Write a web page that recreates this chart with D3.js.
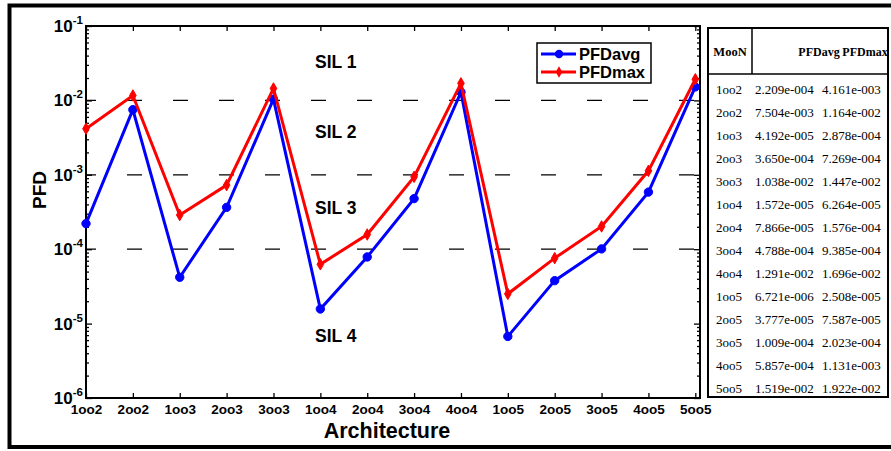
<!DOCTYPE html>
<html>
<head>
<meta charset="utf-8">
<script src="https://cdn.jsdelivr.net/npm/d3@7"></script>
<style>
  html, body { margin: 0; padding: 0; background: #fff; }
  svg { display: block; }
</style>
</head>
<body>
<svg id="chart" width="891" height="451"></svg>
<script>
// MooN voting architectures and their average / maximum probability of failure on demand
const architectures = ["1oo2","2oo2","1oo3","2oo3","3oo3","1oo4","2oo4","3oo4","4oo4","1oo5","2oo5","3oo5","4oo5","5oo5"];
const pfdAvg = [2.209e-4, 7.504e-3, 4.192e-5, 3.650e-4, 1.038e-2, 1.572e-5, 7.866e-5, 4.788e-4, 1.291e-2, 6.721e-6, 3.777e-5, 1.009e-4, 5.857e-4, 1.519e-2];
const pfdMax = [4.161e-3, 1.164e-2, 2.878e-4, 7.269e-4, 1.447e-2, 6.264e-5, 1.576e-4, 9.385e-4, 1.696e-2, 2.508e-5, 7.587e-5, 2.023e-4, 1.131e-3, 1.922e-2];
const pfdAvgText = ["2.209e-004","7.504e-003","4.192e-005","3.650e-004","1.038e-002","1.572e-005","7.866e-005","4.788e-004","1.291e-002","6.721e-006","3.777e-005","1.009e-004","5.857e-004","1.519e-002"];
const pfdMaxText = ["4.161e-003","1.164e-002","2.878e-004","7.269e-004","1.447e-002","6.264e-005","1.576e-004","9.385e-004","1.696e-002","2.508e-005","7.587e-005","2.023e-004","1.131e-003","1.922e-002"];
const yDecades = [1e-6, 1e-5, 1e-4, 1e-3, 1e-2, 1e-1];
const silBounds = [1e-2, 1e-3, 1e-4];
const silLabels = [
  { text: "SIL 1", y: 68 },
  { text: "SIL 2", y: 138 },
  { text: "SIL 3", y: 214 },
  { text: "SIL 4", y: 342 }
];

const svg = d3.select("#chart");
const sans = "'Liberation Sans', Arial, sans-serif";
const serif = "'Liberation Serif', 'Times New Roman', serif";

// outer frame
svg.append("rect").attr("x", 9.5).attr("y", 5.5).attr("width", 900).attr("height", 441.5)
  .attr("fill", "none").attr("stroke", "#000").attr("stroke-width", 4);

const L = 86, R = 700, T = 26, B = 398;
const x = d3.scaleLinear().domain([1, 14.1]).range([L, R]);
const y = d3.scaleLog().domain([1e-6, 1e-1]).range([B, T]);
const idx = architectures.map((_, i) => i + 1);

// minor log ticks (2..9 within each decade)
const minor = [];
yDecades.slice(0, -1).forEach(d => { for (let k = 2; k <= 9; k++) minor.push(d * k); });

const axisG = svg.append("g").attr("font-family", sans);

// bottom axis with category labels
const xb = axisG.append("g").attr("transform", `translate(0,${B})`)
  .call(d3.axisBottom(x).tickValues(idx).tickFormat(i => architectures[i - 1]).tickSizeInner(-5).tickSizeOuter(0).tickPadding(6));
xb.selectAll("text").attr("font-size", 13.5).attr("font-weight", "bold").attr("fill", "#000");
// top axis, ticks only
axisG.append("g").attr("transform", `translate(0,${T})`)
  .call(d3.axisTop(x).tickValues(idx).tickFormat("").tickSizeInner(-5).tickSizeOuter(0));

// left axis decades and minor ticks
axisG.append("g").attr("transform", `translate(${L},0)`)
  .call(d3.axisLeft(y).tickValues(yDecades).tickFormat("").tickSizeInner(-6).tickSizeOuter(0));
axisG.append("g").attr("transform", `translate(${L},0)`)
  .call(d3.axisLeft(y).tickValues(minor).tickFormat("").tickSizeInner(-3).tickSizeOuter(0));
// right axis
axisG.append("g").attr("transform", `translate(${R},0)`)
  .call(d3.axisRight(y).tickValues(yDecades).tickFormat("").tickSizeInner(-6).tickSizeOuter(0));
axisG.append("g").attr("transform", `translate(${R},0)`)
  .call(d3.axisRight(y).tickValues(minor).tickFormat("").tickSizeInner(-3).tickSizeOuter(0));

axisG.selectAll(".domain").remove();
axisG.selectAll(".tick line").attr("stroke", "#000").attr("stroke-width", 1.3);

// plot box
svg.append("rect").attr("x", L).attr("y", T).attr("width", R - L).attr("height", B - T)
  .attr("fill", "none").attr("stroke", "#000").attr("stroke-width", 2);

// decade labels 10^n with superscript exponent
const yLab = svg.append("g").attr("font-family", sans).attr("font-weight", "bold").attr("fill", "#000");
yDecades.forEach(d => {
  const t = yLab.append("text").attr("x", 83).attr("y", y(d) + 6).attr("text-anchor", "end").attr("font-size", 17);
  t.append("tspan").text("10");
  t.append("tspan").attr("font-size", 11.5).attr("dy", -8).text(String(Math.round(Math.log10(d))));
});

// SIL boundaries
svg.append("g").selectAll("line").data(silBounds).join("line")
  .attr("x1", L).attr("x2", R).attr("y1", d => y(d)).attr("y2", d => y(d))
  .attr("stroke", "#000").attr("stroke-width", 1.2)
  .attr("stroke-dasharray", "15,31").attr("stroke-dashoffset", 5);

svg.append("g").selectAll("text").data(silLabels).join("text")
  .attr("x", 315).attr("y", d => d.y).text(d => d.text)
  .attr("font-family", sans).attr("font-weight", "bold").attr("font-size", 17.5).attr("fill", "#000");

// series
const series = [
  { name: "PFDavg", values: pfdAvg, color: "#0000ff", marker: "circle" },
  { name: "PFDmax", values: pfdMax, color: "#ff0000", marker: "diamond" }
];
const line = d3.line().x((d, i) => x(i + 1)).y(d => y(d));
const sym = { circle: d3.symbol().type(d3.symbolCircle).size(55), diamond: d3.symbol().type(d3.symbolDiamond).size(38) };

series.forEach(s => {
  const g = svg.append("g");
  g.append("path").attr("d", line(s.values)).attr("fill", "none")
    .attr("stroke", s.color).attr("stroke-width", 3).attr("stroke-linejoin", "miter");
  g.selectAll("path.m").data(s.values).join("path").attr("class", "m")
    .attr("transform", (d, i) => `translate(${x(i + 1)},${y(d)})`)
    .attr("d", sym[s.marker]()).attr("fill", s.color).attr("stroke", s.color).attr("stroke-width", 1);
});

// legend
const lg = svg.append("g");
lg.append("rect").attr("x", 537).attr("y", 43).attr("width", 114).attr("height", 40)
  .attr("fill", "#fff").attr("stroke", "#000").attr("stroke-width", 1.5);
series.forEach((s, i) => {
  const ly = 54 + i * 18;
  lg.append("line").attr("x1", 541).attr("x2", 576).attr("y1", ly).attr("y2", ly)
    .attr("stroke", s.color).attr("stroke-width", 3);
  lg.append("path").attr("transform", `translate(559,${ly})`).attr("d", sym[s.marker]()).attr("fill", s.color);
  lg.append("text").attr("x", 579).attr("y", ly + 6).text(s.name)
    .attr("font-family", sans).attr("font-weight", "bold").attr("font-size", 16.5).attr("fill", "#000");
});

// axis titles
svg.append("text").attr("x", 387).attr("y", 438).attr("text-anchor", "middle").text("Architecture")
  .attr("font-family", sans).attr("font-weight", "bold").attr("font-size", 21.5).attr("fill", "#000");
svg.append("text").attr("transform", "translate(46,190) rotate(-90)").attr("text-anchor", "middle").text("PFD")
  .attr("font-family", sans).attr("font-weight", "bold").attr("font-size", 19).attr("fill", "#000");

// values table
const TX0 = 708, TX1 = 888, TY0 = 28, TY1 = 397, HY = 74, colSep = 752;
const tg = svg.append("g").attr("font-family", serif).attr("fill", "#000");
tg.append("rect").attr("x", TX0).attr("y", TY0).attr("width", TX1 - TX0).attr("height", TY1 - TY0)
  .attr("fill", "#fff").attr("stroke", "#000").attr("stroke-width", 2);
tg.append("line").attr("x1", TX0).attr("x2", TX1).attr("y1", HY).attr("y2", HY).attr("stroke", "#000").attr("stroke-width", 1.5);
tg.append("line").attr("x1", colSep).attr("x2", colSep).attr("y1", TY0).attr("y2", HY).attr("stroke", "#000").attr("stroke-width", 1.5);
[["MooN", 730, 12.5], ["PFDavg", 819, 12], ["PFDmax", 865, 12]].forEach(([t, cx, fs]) => {
  tg.append("text").attr("x", cx).attr("y", 56).attr("text-anchor", "middle").text(t)
    .attr("font-weight", "bold").attr("font-size", fs);
});
const rowY = d3.scaleLinear().domain([0, 13]).range([93.5, 392.5]);
architectures.forEach((a, i) => {
  const ry = rowY(i);
  tg.append("text").attr("x", 729).attr("y", ry).attr("text-anchor", "middle").attr("font-size", 13).text(a);
  tg.append("text").attr("x", 755).attr("y", ry).attr("font-size", 13).text(pfdAvgText[i]);
  tg.append("text").attr("x", 822).attr("y", ry).attr("font-size", 13).text(pfdMaxText[i]);
});
</script>
</body>
</html>
